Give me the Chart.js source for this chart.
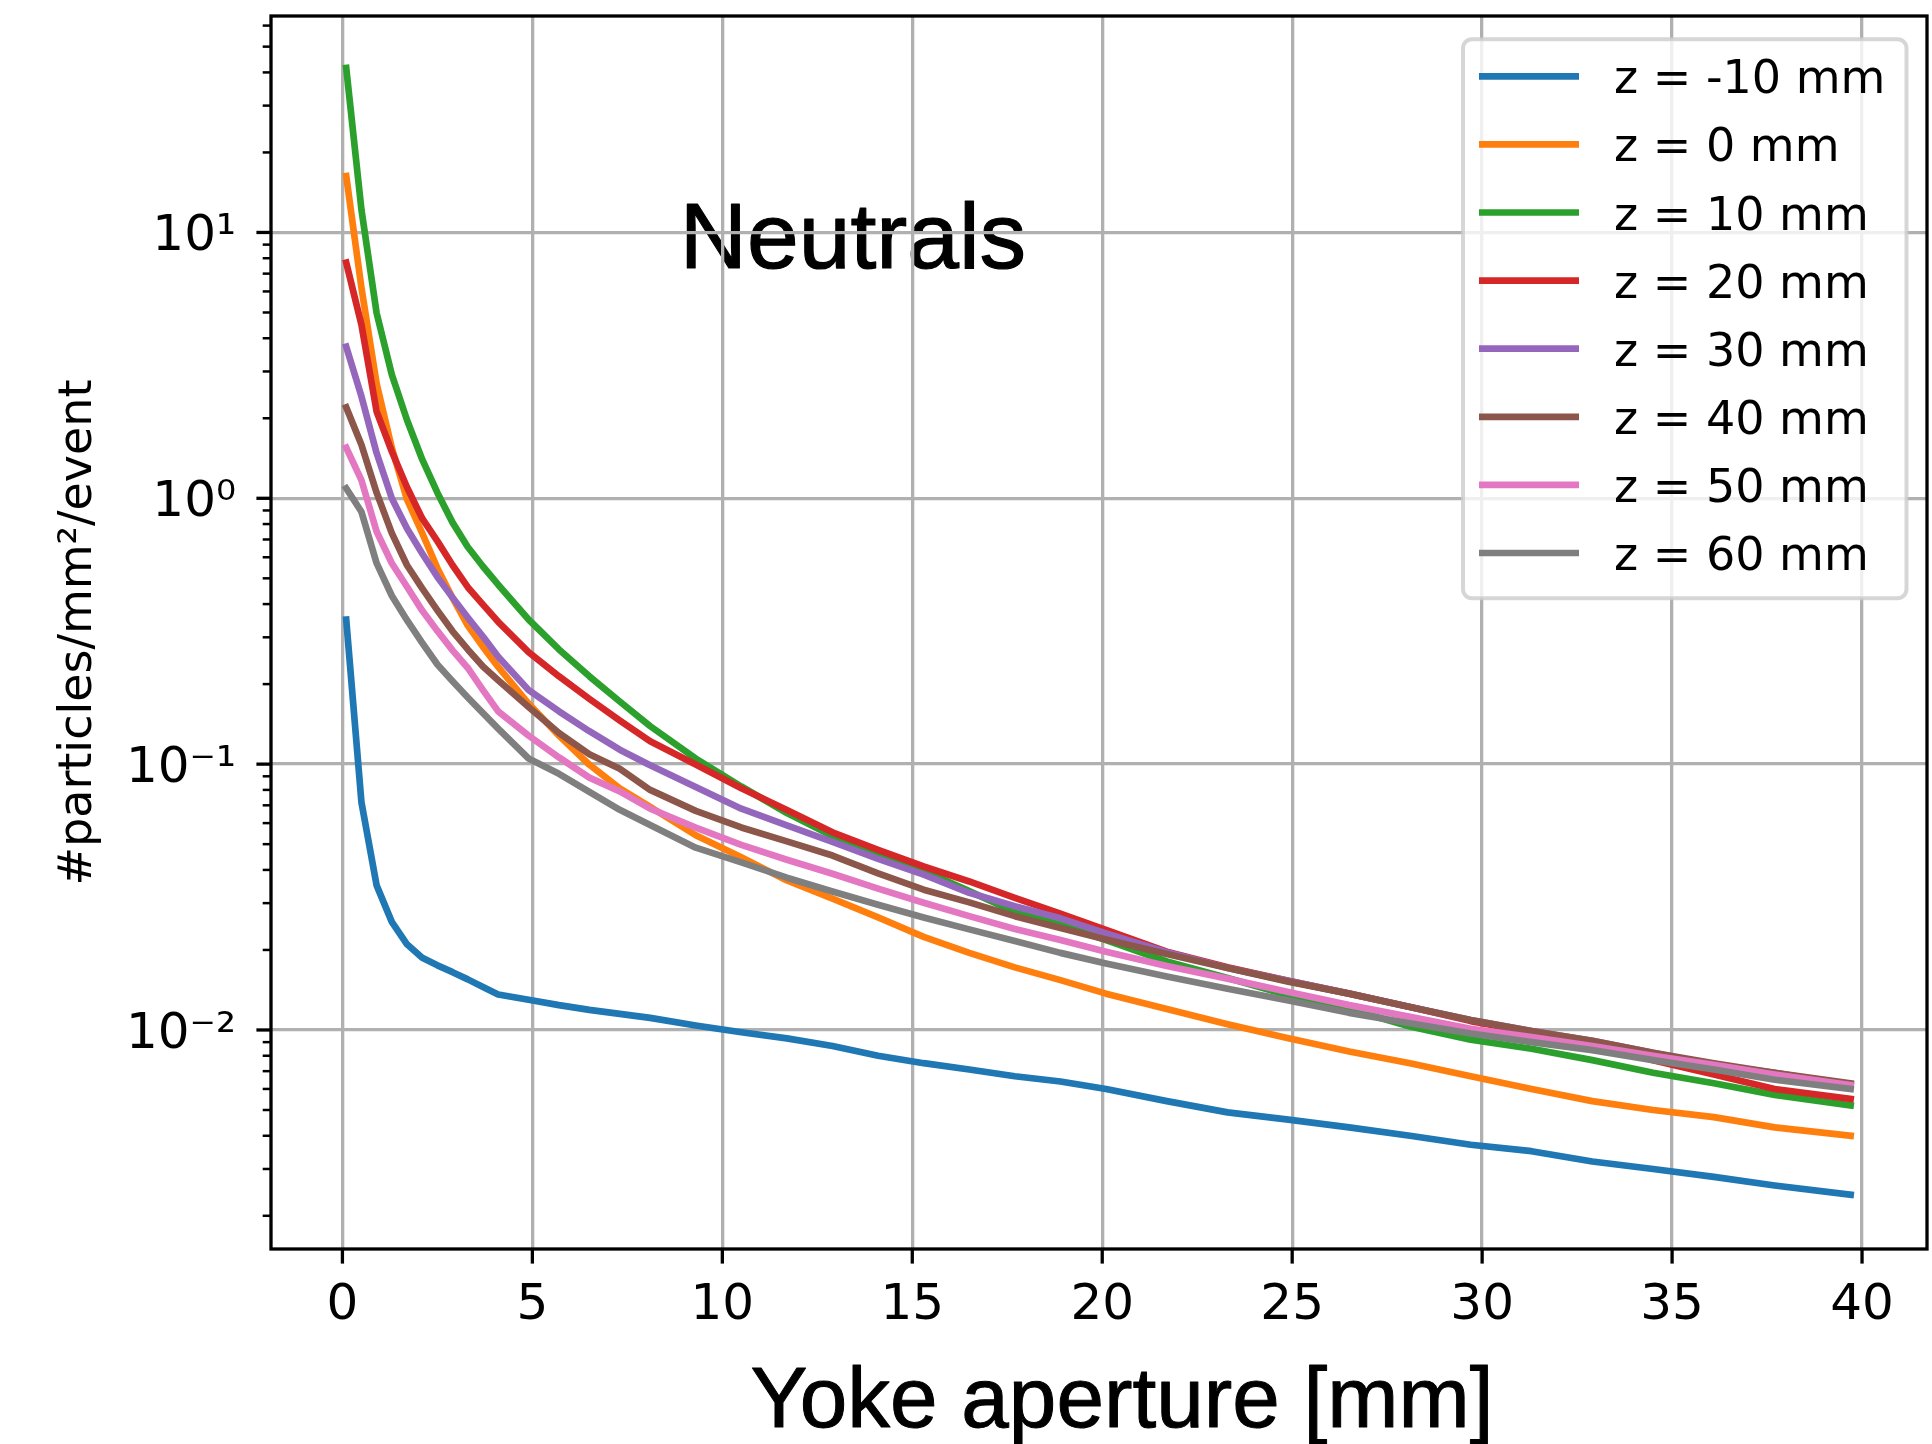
<!DOCTYPE html>
<html>
<head>
<meta charset="utf-8">
<script src="https://cdn.jsdelivr.net/npm/chart.js@4.4.1/dist/chart.umd.min.js"></script>
<style>
  html, body { margin: 0; padding: 0; background: #ffffff; }
  canvas { display: block; }
</style>
</head>
<body>
<canvas id="chart" width="1932" height="1444"></canvas>
<script>
// ---------------- data ----------------
const X_VALUES = [0.1, 0.5, 0.9, 1.3, 1.7, 2.1, 2.5, 2.9, 3.3, 3.7, 4.1, 4.9, 5.7, 6.5, 7.3, 8.1,
  9.3, 10.5, 11.7, 12.9, 14.1, 15.3, 16.5, 17.7, 18.9, 20.1,
  21.7, 23.3, 24.9, 26.5, 28.1, 29.7, 31.3, 32.9, 34.5, 36.1, 37.7, 39.7];

const Z_MINUS10 = [0.35, 0.072, 0.035, 0.0255, 0.021, 0.0187, 0.0175, 0.0165, 0.0155, 0.0145, 0.0136, 0.0130, 0.0124, 0.0119, 0.0115, 0.0111,
  0.0104, 0.0098, 0.0093, 0.0087, 0.0080, 0.0075, 0.0071, 0.0067, 0.0064, 0.0060,
  0.0054, 0.0049, 0.0046, 0.0043, 0.0040, 0.0037, 0.0035, 0.0032, 0.0030, 0.0028, 0.0026, 0.0024];

const Z_0 = [16.3, 6.2, 2.7, 1.55, 0.99, 0.74, 0.546, 0.422, 0.332, 0.276, 0.232, 0.169, 0.128, 0.0995, 0.081, 0.069,
  0.054, 0.0446, 0.0365, 0.0312, 0.0265, 0.0224, 0.0195, 0.0172, 0.0154, 0.0137,
  0.0120, 0.0105, 0.0093, 0.0083, 0.0075, 0.0067, 0.0060, 0.0054, 0.0050, 0.0047, 0.0043, 0.0040];

const Z_10 = [41.6, 12.2, 4.98, 2.92, 1.97, 1.40, 1.05, 0.81, 0.656, 0.554, 0.473, 0.35, 0.27, 0.214, 0.172, 0.139,
  0.105, 0.0824, 0.0655, 0.0537, 0.0457, 0.0397, 0.0333, 0.0278, 0.0249, 0.0218,
  0.0181, 0.0157, 0.0135, 0.0120, 0.0103, 0.0092, 0.0085, 0.0077, 0.0069, 0.0063, 0.0057, 0.0052];

const Z_20 = [7.7, 4.5, 2.12, 1.5, 1.1, 0.84, 0.69, 0.56, 0.463, 0.398, 0.343, 0.264, 0.214, 0.176, 0.146, 0.122,
  0.0996, 0.0812, 0.0672, 0.0554, 0.0476, 0.0412, 0.0362, 0.0314, 0.0274, 0.0238,
  0.0197, 0.0172, 0.0153, 0.0137, 0.0122, 0.0108, 0.0098, 0.0088, 0.0077, 0.0068, 0.0060, 0.0055];

const Z_30 = [3.72, 2.42, 1.48, 1.0, 0.77, 0.62, 0.506, 0.423, 0.356, 0.302, 0.2535, 0.19, 0.158, 0.133, 0.1133, 0.099,
  0.082, 0.068, 0.0588, 0.051, 0.0440, 0.0384, 0.0328, 0.0292, 0.0263, 0.0231,
  0.0196, 0.0171, 0.0153, 0.0137, 0.0122, 0.0109, 0.0099, 0.0091, 0.0082, 0.0074, 0.0069, 0.0062];

const Z_40 = [2.2, 1.59, 1.05, 0.74, 0.56, 0.458, 0.379, 0.316, 0.27, 0.233, 0.207, 0.164, 0.131, 0.109, 0.096, 0.080,
  0.0667, 0.0578, 0.0512, 0.0453, 0.0388, 0.0337, 0.0302, 0.0268, 0.0242, 0.0219,
  0.0193, 0.0171, 0.0152, 0.0137, 0.0122, 0.0109, 0.0099, 0.0091, 0.0082, 0.0075, 0.0069, 0.0063];

const Z_50 = [1.55, 1.17, 0.75, 0.57, 0.465, 0.378, 0.317, 0.268, 0.23, 0.19, 0.158, 0.128, 0.106, 0.089, 0.079, 0.068,
  0.0577, 0.0497, 0.0437, 0.0387, 0.0340, 0.0301, 0.0268, 0.0240, 0.0218, 0.0197,
  0.0174, 0.0156, 0.0139, 0.0124, 0.0112, 0.0101, 0.0094, 0.0087, 0.0080, 0.0074, 0.0068, 0.0062];

const Z_60 = [1.09, 0.89, 0.57, 0.43, 0.348, 0.286, 0.237, 0.205, 0.178, 0.1555, 0.136, 0.105, 0.092, 0.0786, 0.0673, 0.059,
  0.0485, 0.0427, 0.0374, 0.0332, 0.0296, 0.0265, 0.0239, 0.0216, 0.0195, 0.0178,
  0.0159, 0.0143, 0.0129, 0.0116, 0.0106, 0.0097, 0.0090, 0.0084, 0.0077, 0.0071, 0.0065, 0.0060];

const SERIES = [Z_MINUS10, Z_0, Z_10, Z_20, Z_30, Z_40, Z_50, Z_60];
const SERIES_LABELS = ['z = -10 mm', 'z = 0 mm', 'z = 10 mm', 'z = 20 mm',
                       'z = 30 mm', 'z = 40 mm', 'z = 50 mm', 'z = 60 mm'];
const SERIES_COLORS = ['#1f77b4', '#ff7f0e', '#2ca02c', '#d62728',
                       '#9467bd', '#8c564b', '#e377c2', '#7f7f7f'];

const X_TICKS = [0, 5, 10, 15, 20, 25, 30, 35, 40];
const X_TICK_LABELS = ['0', '5', '10', '15', '20', '25', '30', '35', '40'];
const Y_MAJOR_TICKS = [0.01, 0.1, 1, 10];
const Y_MAJOR_LABELS = ['10\u207B\u00B2', '10\u207B\u00B9', '10\u2070', '10\u00B9'];

const X_MIN = -1.88, X_MAX = 41.71;
const Y_MIN = 0.0015, Y_MAX = 65.2;

const TITLE_TEXT = 'Neutrals';
const TITLE_POS = { x: 8.88, y: 7.36 };
const X_LABEL = 'Yoke aperture [mm]';
const Y_LABEL = '#particles/mm\u00B2/event';

// minor log ticks (axis structure)
const Y_MINOR_TICKS = [];
[0.001, 0.01, 0.1, 1, 10].forEach(d => {
  for (let m = 2; m <= 9; m++) {
    const v = +(m * d).toPrecision(6);
    if (v >= Y_MIN && v <= Y_MAX) Y_MINOR_TICKS.push(v);
  }
});

// ---------------- chart ----------------
const LINE_W = 6.7;
const datasets = SERIES.map((vals, i) => ({
  label: SERIES_LABELS[i],
  data: X_VALUES.map((x, j) => ({ x: x, y: vals[j] })),
  borderColor: SERIES_COLORS[i],
  backgroundColor: SERIES_COLORS[i],
  borderWidth: LINE_W,
  borderCapStyle: 'square',
  borderJoinStyle: 'round',
  pointRadius: 0,
  pointHoverRadius: 0,
  tension: 0,
  fill: false,
  order: SERIES.length - 1 - i
}));

const GRID_COLOR = '#b0b0b0';

function heavyText(ctx, text, x, y, w) {
  ctx.fillText(text, x, y);
  ctx.lineWidth = w;
  ctx.strokeStyle = ctx.fillStyle;
  ctx.lineJoin = 'round';
  ctx.strokeText(text, x, y);
}

const decoPlugin = {
  id: 'deco',
  beforeDraw(chart) {
    const ctx = chart.ctx;
    ctx.save();
    ctx.fillStyle = '#ffffff';
    ctx.fillRect(0, 0, chart.width, chart.height);
    const xs = chart.scales.x, ys = chart.scales.y;
    ctx.fillStyle = '#000000';
    ctx.font = '93px "Liberation Sans", Arial, sans-serif';
    ctx.textAlign = 'left';
    ctx.textBaseline = 'alphabetic';
    heavyText(ctx, TITLE_TEXT, xs.getPixelForValue(TITLE_POS.x), ys.getPixelForValue(TITLE_POS.y), 1.2);
    ctx.restore();
  },
  afterDraw(chart) {
    const ctx = chart.ctx;
    const a = chart.chartArea;
    const xs = chart.scales.x, ys = chart.scales.y;
    ctx.save();
    // spines
    ctx.strokeStyle = '#000000';
    ctx.lineWidth = 3.3;
    ctx.lineJoin = 'miter';
    ctx.strokeRect(a.left, a.top, a.right - a.left, a.bottom - a.top);

    // x ticks + labels
    ctx.lineCap = 'butt';
    ctx.font = '50px "DejaVu Sans", sans-serif';
    ctx.fillStyle = '#000000';
    ctx.textAlign = 'center';
    ctx.textBaseline = 'alphabetic';
    X_TICKS.forEach((v, i) => {
      const px = xs.getPixelForValue(v);
      ctx.lineWidth = 3.3;
      ctx.beginPath();
      ctx.moveTo(px, a.bottom);
      ctx.lineTo(px, a.bottom + 14.6);
      ctx.stroke();
      ctx.fillText(X_TICK_LABELS[i], px, a.bottom + 70);
    });

    // y ticks
    Y_MINOR_TICKS.forEach(v => {
      const py = ys.getPixelForValue(v);
      ctx.lineWidth = 2.5;
      ctx.beginPath();
      ctx.moveTo(a.left - 8.3, py);
      ctx.lineTo(a.left, py);
      ctx.stroke();
    });
    ctx.textAlign = 'right';
    Y_MAJOR_TICKS.forEach((v, i) => {
      const py = ys.getPixelForValue(v);
      ctx.lineWidth = 3.3;
      ctx.beginPath();
      ctx.moveTo(a.left - 14.6, py);
      ctx.lineTo(a.left, py);
      ctx.stroke();
      ctx.fillText(Y_MAJOR_LABELS[i], a.left - 35, py + 18);
    });

    // axis labels
    ctx.save();
    ctx.font = '85.5px "Liberation Sans", Arial, sans-serif';
    ctx.textAlign = 'center';
    ctx.fillStyle = '#000000';
    heavyText(ctx, X_LABEL, (a.left + a.right) / 2 + 23, 1427, 1.0);
    ctx.restore();

    ctx.save();
    ctx.translate(91, (a.top + a.bottom) / 2);
    ctx.rotate(-Math.PI / 2);
    ctx.font = '46px "DejaVu Sans", sans-serif';
    ctx.textAlign = 'center';
    ctx.fillStyle = '#000000';
    ctx.fillText(Y_LABEL, 0, 0);
    ctx.restore();

    // legend
    const lw = 443.5, lh = 559;
    const lx = a.right - 464, ly = a.top + 23.3;
    ctx.beginPath();
    if (ctx.roundRect) ctx.roundRect(lx, ly, lw, lh, 9); else ctx.rect(lx, ly, lw, lh);
    ctx.fillStyle = 'rgba(255,255,255,0.8)';
    ctx.fill();
    ctx.strokeStyle = 'rgba(204,204,204,0.8)';
    ctx.lineWidth = 4;
    ctx.stroke();
    ctx.font = '46px "DejaVu Sans", sans-serif';
    ctx.textAlign = 'left';
    ctx.textBaseline = 'alphabetic';
    chart.data.datasets.forEach((ds, i) => {
      const ry = ly + 37 + i * 68.1;
      ctx.strokeStyle = ds.borderColor;
      ctx.lineWidth = LINE_W;
      ctx.lineCap = 'butt';
      ctx.beginPath();
      ctx.moveTo(lx + 16, ry);
      ctx.lineTo(lx + 116, ry);
      ctx.stroke();
      ctx.fillStyle = '#000000';
      ctx.fillText(ds.label, lx + 151, ry + 17);
    });
    ctx.restore();
  }
};

new Chart(document.getElementById('chart'), {
  type: 'line',
  data: { datasets: datasets },
  plugins: [decoPlugin],
  options: {
    responsive: false,
    maintainAspectRatio: false,
    devicePixelRatio: 1,
    animation: false,
    layout: { padding: { left: 0, top: 16, right: 5, bottom: 0 } },
    plugins: { legend: { display: false }, tooltip: { enabled: false }, title: { display: false } },
    scales: {
      x: {
        type: 'linear',
        position: 'bottom',
        min: X_MIN,
        max: X_MAX,
        border: { display: false },
        grid: { color: GRID_COLOR, lineWidth: 3.3, drawTicks: false },
        ticks: { display: false },
        afterBuildTicks: s => { s.ticks = X_TICKS.map(v => ({ value: v })); },
        afterFit: s => { s.height = 195; }
      },
      y: {
        type: 'logarithmic',
        position: 'left',
        min: Y_MIN,
        max: Y_MAX,
        border: { display: false },
        grid: {
          color: c => (c.tick && c.tick.major) ? GRID_COLOR : 'rgba(0,0,0,0)',
          lineWidth: 3.3,
          drawTicks: false
        },
        ticks: { display: false, autoSkip: false },
        afterBuildTicks: s => {
          s.ticks = Y_MAJOR_TICKS.map(v => ({ value: v, major: true }))
            .concat(Y_MINOR_TICKS.map(v => ({ value: v, major: false })));
        },
        afterFit: s => { s.width = 271; }
      }
    }
  }
});
</script>
</body>
</html>
